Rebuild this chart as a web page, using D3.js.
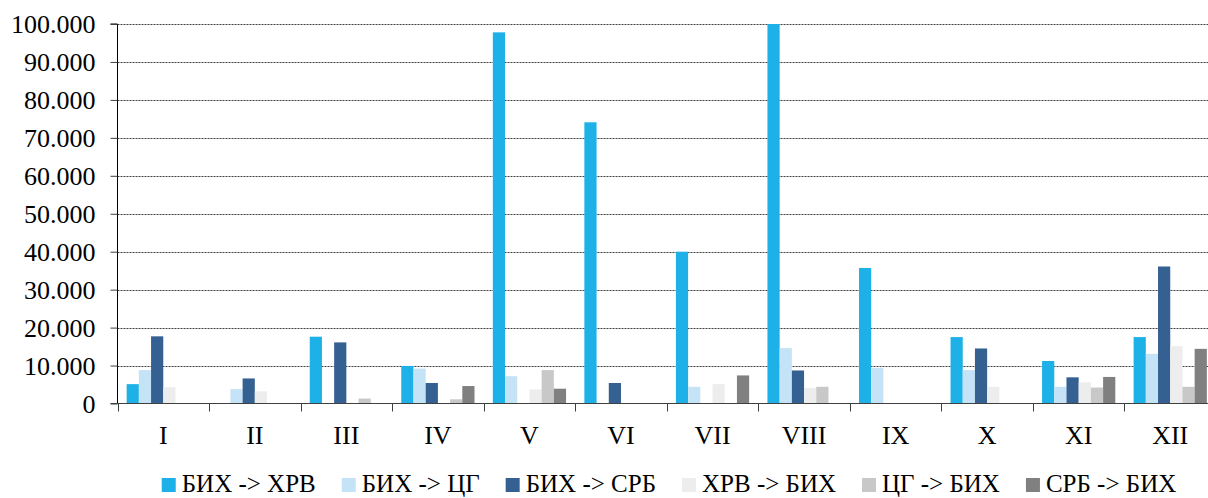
<!DOCTYPE html>
<html>
<head>
<meta charset="utf-8">
<script src="https://cdn.jsdelivr.net/npm/d3@7"></script>
<style>
  html, body { margin: 0; padding: 0; background: #fff; }
  svg { display: block; }
  svg text { font-family: "Liberation Serif", "Times New Roman", serif; }
</style>
</head>
<body>
<svg id="chart" width="1208" height="498"></svg>
<script>
// Months (Roman numerals) on the category axis
const months = ["I", "II", "III", "IV", "V", "VI", "VII", "VIII", "IX", "X", "XI", "XII"];

// Flow directions shown as series
const seriesNames = ["БИХ -> ХРВ", "БИХ -> ЦГ", "БИХ -> СРБ", "ХРВ -> БИХ", "ЦГ -> БИХ", "СРБ -> БИХ"];
const seriesColors = ["#1eb1e7", "#c5e3f6", "#356092", "#ededed", "#c8c8c8", "#808080"];

// Monthly values per direction
const bihHrv = [5100, 0, 17600, 9900, 97800, 74100, 40000, 100000, 35700, 17500, 11200, 17500];
const bihCg  = [8800, 3800, 0, 9200, 7200, 0, 4400, 14600, 9400, 8800, 4400, 13100];
const bihSrb = [17700, 6600, 16100, 5400, 0, 5400, 0, 8700, 0, 14500, 6900, 36100];
const hrvBih = [4300, 3200, 0, 0, 3700, 0, 5100, 4100, 0, 4400, 5600, 15100];
const cgBih  = [0, 0, 1300, 1100, 8800, 0, 0, 4400, 0, 0, 4200, 4400];
const srbBih = [0, 0, 0, 4600, 3900, 0, 7400, 0, 0, 0, 7000, 14400];

const seriesValues = [bihHrv, bihCg, bihSrb, hrvBih, cgBih, srbBih];

// Y axis ticks
const yTicks = [0, 10000, 20000, 30000, 40000, 50000, 60000, 70000, 80000, 90000, 100000];
const yTickLabels = ["0", "10.000", "20.000", "30.000", "40.000", "50.000", "60.000", "70.000", "80.000", "90.000", "100.000"];

const FONT = "'Liberation Serif', 'Times New Roman', serif";
const FONT_SIZE = 26;
const LEGEND_FONT_SIZE = 25;

const svg = d3.select("#chart");
const plot = { left: 117.5, right: 1216, top: 24, bottom: 403.5 };

const x0 = d3.scaleBand().domain(months).range([plot.left, plot.right]).paddingInner(0).paddingOuter(0);
const x1 = d3.scaleBand().domain(seriesNames).range([0, x0.bandwidth()]).paddingInner(0).paddingOuter(0.75);
const y = d3.scaleLinear().domain([0, 100000]).range([plot.bottom, plot.top]);

// Dotted horizontal gridlines
svg.append("g")
  .selectAll("line")
  .data(yTicks.filter(d => d > 0))
  .join("line")
  .attr("x1", plot.left)
  .attr("x2", plot.right)
  .attr("y1", d => Math.round(y(d)) + 0.5)
  .attr("y2", d => Math.round(y(d)) + 0.5)
  .attr("stroke", "#404040")
  .attr("stroke-width", 1)
  .attr("stroke-dasharray", "2,1");

// Bars
const rows = months.map((m, i) => ({ month: m, values: seriesNames.map((s, j) => ({ key: s, idx: j, value: seriesValues[j][i] })) }));

svg.append("g")
  .selectAll("g")
  .data(rows)
  .join("g")
  .attr("transform", d => `translate(${x0(d.month)},0)`)
  .selectAll("rect")
  .data(d => d.values.filter(v => v.value > 0))
  .join("rect")
  .attr("x", d => x1(d.key))
  .attr("y", d => y(d.value))
  .attr("width", x1.bandwidth())
  .attr("height", d => y(0) - y(d.value))
  .attr("fill", d => seriesColors[d.idx]);

// Y axis
const yAxis = d3.axisLeft(y)
  .tickValues(yTicks)
  .tickFormat((d, i) => yTickLabels[i])
  .tickSize(7)
  .tickPadding(15);

const gy = svg.append("g")
  .attr("transform", `translate(${plot.left},0)`)
  .call(yAxis);
gy.select(".domain").attr("stroke", "#000").attr("d", `M-7,${plot.top}H0V${plot.bottom}`);
gy.selectAll(".tick line").attr("stroke", "#404040");
gy.selectAll(".tick text")
  .attr("dy", "0.34em")
  .attr("fill", "#000")
  .style("font-family", FONT)
  .style("font-size", FONT_SIZE + "px");

// X axis: baseline with separators between months
const gx = svg.append("g");
gx.append("line")
  .attr("x1", plot.left - 7).attr("x2", plot.right)
  .attr("y1", plot.bottom).attr("y2", plot.bottom)
  .attr("stroke", "#404040");
gx.selectAll("line.sep")
  .data(months.concat(["end"]))
  .join("line")
  .attr("class", "sep")
  .attr("x1", (d, i) => Math.round(plot.left + i * x0.step()) + 0.5)
  .attr("x2", (d, i) => Math.round(plot.left + i * x0.step()) + 0.5)
  .attr("y1", plot.bottom)
  .attr("y2", plot.bottom + 8)
  .attr("stroke", "#404040");
gx.selectAll("text")
  .data(months)
  .join("text")
  .attr("x", d => x0(d) + x0.bandwidth() / 2)
  .attr("y", 444)
  .attr("text-anchor", "middle")
  .attr("fill", "#000")
  .style("font-family", FONT)
  .style("font-size", FONT_SIZE + "px")
  .text(d => d);

// Legend
const legend = svg.append("g");
const items = legend.selectAll("g")
  .data(seriesNames)
  .join("g");
items.append("rect")
  .attr("width", 14)
  .attr("height", 14)
  .attr("y", 478)
  .attr("fill", (d, i) => seriesColors[i]);
items.append("text")
  .attr("x", 20)
  .attr("y", 492)
  .attr("fill", "#000")
  .style("font-family", FONT)
  .style("font-size", LEGEND_FONT_SIZE + "px")
  .text(d => d);

const GAP = 26;
let cursor = 0;
const positions = [];
items.each(function () {
  const w = d3.select(this).select("text").node().getComputedTextLength();
  positions.push(cursor);
  cursor += 20 + w + GAP;
});
const totalW = cursor - GAP;
const startX = 669 - totalW / 2;
items.attr("transform", (d, i) => `translate(${startX + positions[i]},0)`);
</script>
</body>
</html>
